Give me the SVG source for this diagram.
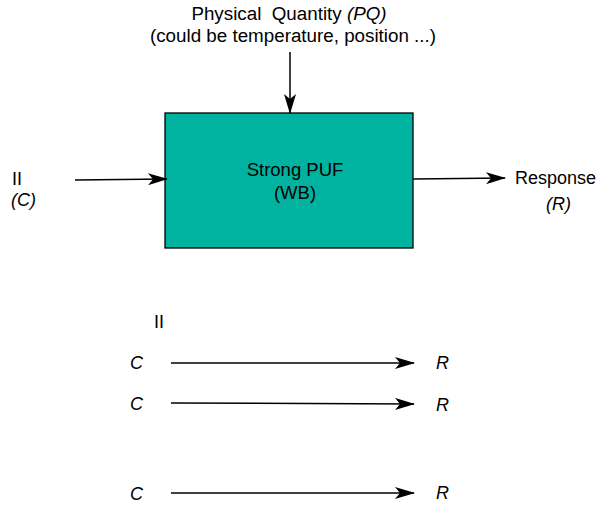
<svg xmlns="http://www.w3.org/2000/svg" width="599" height="506" viewBox="0 0 599 506">
<style>
text{font-family:"Liberation Sans",Arial,sans-serif;font-size:18px;fill:#000}
.i{font-style:italic}
.c{stroke:#000;stroke-width:1.5;fill:none}
</style>
<defs>
<marker id="a" viewBox="0 0 20 12" refX="19" refY="6" markerWidth="20" markerHeight="12" markerUnits="userSpaceOnUse" orient="auto">
<path d="M0,0 L20,6 L0,12 L5,6 Z" fill="#000"/>
</marker>
</defs>
<rect width="599" height="506" fill="#fff"/>
<g id="pq-label">
<text x="289" y="20" text-anchor="middle" style="font-size:18.8px;white-space:pre" xml:space="preserve">Physical  Quantity <tspan class="i">(PQ)</tspan></text>
<text x="293" y="42" text-anchor="middle" style="font-size:18.8px">(could be temperature, position ...)</text>
</g>
<g id="puf">
<rect x="165" y="113" width="248" height="135" fill="#00B3A0" stroke="#000" stroke-width="1.3"/>
<text x="295" y="176" text-anchor="middle" style="font-size:18.5px">Strong PUF</text>
<text x="295" y="199" text-anchor="middle" style="font-size:18.5px">(WB)</text>
</g>
<g id="challenge">
<text x="12" y="185">II</text>
<text x="11" y="206" class="i">(C)</text>
</g>
<g id="response">
<text x="515" y="184">Response</text>
<text x="546" y="210" class="i">(R)</text>
</g>
<g id="pairs">
<text x="154" y="328">II</text>
<text x="130" y="369" class="i">C</text>
<text x="436" y="369" class="i">R</text>
<text x="130" y="410" class="i">C</text>
<text x="436" y="411" class="i">R</text>
<text x="130" y="500" class="i">C</text>
<text x="436" y="499" class="i">R</text>
</g>
<g id="connectors">
<line class="c" x1="290" y1="52" x2="290" y2="113" marker-end="url(#a)"/>
<line class="c" x1="75" y1="180" x2="167" y2="179" marker-end="url(#a)"/>
<line class="c" x1="413" y1="179" x2="505" y2="178" marker-end="url(#a)"/>
<line class="c" x1="171" y1="363" x2="414" y2="363" marker-end="url(#a)"/>
<line class="c" x1="171" y1="403" x2="414" y2="404" marker-end="url(#a)"/>
<line class="c" x1="171" y1="493" x2="414" y2="493" marker-end="url(#a)"/>
</g>
</svg>
